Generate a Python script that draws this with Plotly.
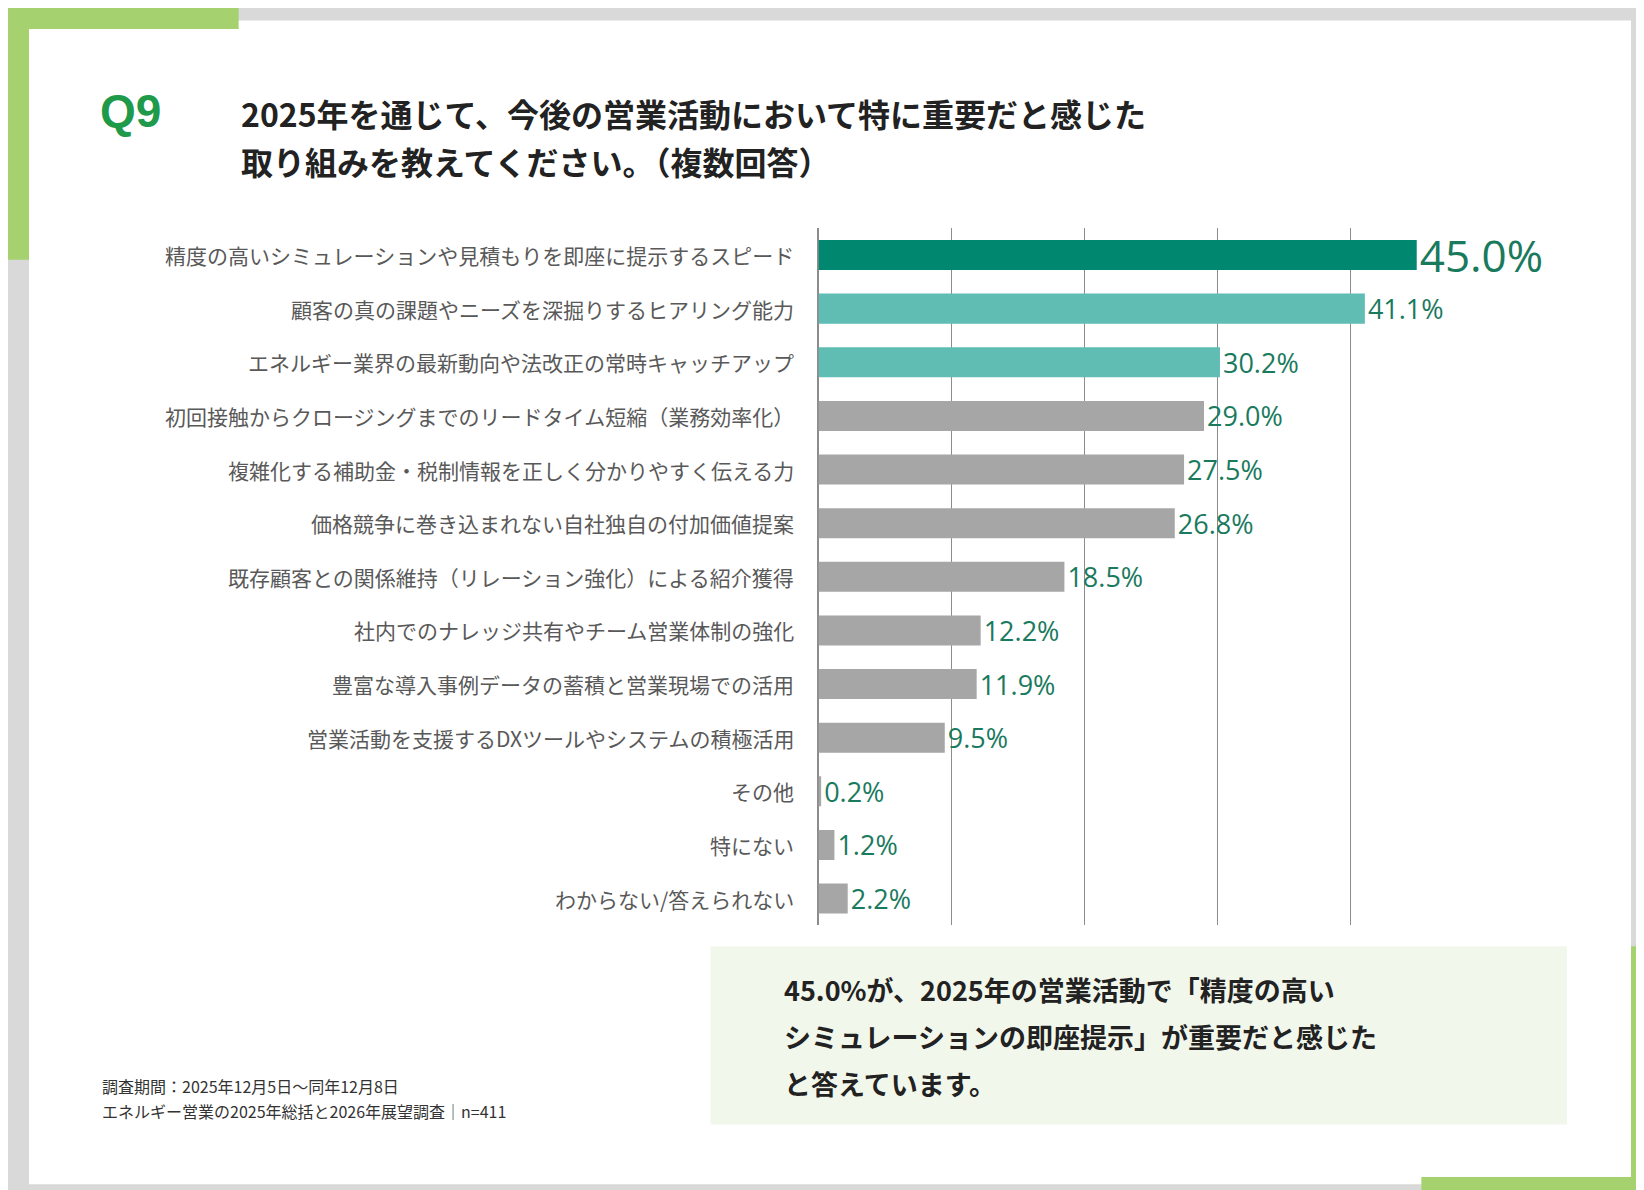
import plotly.graph_objects as go

categories = [
    "精度の高いシミュレーションや見積もりを即座に提示するスピード",
    "顧客の真の課題やニーズを深掘りするヒアリング能力",
    "エネルギー業界の最新動向や法改正の常時キャッチアップ",
    "初回接触からクロージングまでのリードタイム短縮（業務効率化）",
    "複雑化する補助金・税制情報を正しく分かりやすく伝える力",
    "価格競争に巻き込まれない自社独自の付加価値提案",
    "既存顧客との関係維持（リレーション強化）による紹介獲得",
    "社内でのナレッジ共有やチーム営業体制の強化",
    "豊富な導入事例データの蓄積と営業現場での活用",
    "営業活動を支援するDXツールやシステムの積極活用",
    "その他",
    "特にない",
    "わからない/答えられない",
]
values = [45.0, 41.1, 30.2, 29.0, 27.5, 26.8, 18.5, 12.2, 11.9, 9.5, 0.2, 1.2, 2.2]
value_labels = [f"{v:.1f}%" for v in values]

W, H = 1644, 1190
def X(px): return px / 1568
def Y(py): return 1 - py / 1135

FONT = "Noto Sans CJK JP"
colors = ["#00876f", "#5fbdb4", "#5fbdb4"] + ["#a6a6a6"] * 10
sizes = [44] + [27] * 12

fig = go.Figure(go.Bar(
    x=values, y=list(range(len(values))), orientation="h",
    marker=dict(color=colors, line=dict(width=0)), width=0.56,
    text=value_labels, textposition="outside", cliponaxis=False, constraintext="none",
    textfont=dict(size=sizes, color="#1a7a5e", family="Open Sans"),
    hoverinfo="skip",
))

shapes = [
    dict(type="rect", xref="paper", yref="paper", x0=0, x1=1, y0=0, y1=1, fillcolor="#d9d9d9", line_width=0, layer="below"),
    dict(type="rect", xref="paper", yref="paper", x0=X(20), x1=X(1548), y0=Y(1122), y1=Y(12), fillcolor="white", line_width=0, layer="below"),
    dict(type="rect", xref="paper", yref="paper", x0=0, x1=X(220), y0=Y(20), y1=1, fillcolor="#a5d26f", line_width=0, layer="below"),
    dict(type="rect", xref="paper", yref="paper", x0=0, x1=X(20), y0=Y(240), y1=1, fillcolor="#a5d26f", line_width=0, layer="below"),
    dict(type="rect", xref="paper", yref="paper", x0=X(1348), x1=1, y0=0, y1=Y(1115), fillcolor="#a5d26f", line_width=0, layer="below"),
    dict(type="rect", xref="paper", yref="paper", x0=X(1548), x1=1, y0=0, y1=Y(895), fillcolor="#a5d26f", line_width=0, layer="below"),
    dict(type="rect", xref="paper", yref="paper", x0=X(670), x1=X(1487), y0=Y(1065), y1=Y(895), fillcolor="#f2f7ec", line_width=0, layer="below"),
]

ann = []
for i, c in enumerate(categories):
    ann.append(dict(x=X(752), y=i, xref="paper", yref="y", text=c, showarrow=False,
                    xanchor="right", yanchor="middle", font=dict(size=21, color="#595959", family=FONT)))

def line_ann(x, y, text, size, color, bold=True, family=FONT):
    t = f"<b>{text}</b>" if bold else text
    return dict(x=X(x), y=Y(y), xref="paper", yref="paper", text=t, showarrow=False,
                xanchor="left", yanchor="middle", font=dict(size=size, color=color, family=family))

ann += [
    line_ann(86, 98, "Q9", 46, "#1e9a4a", family="Liberation Sans"),
    line_ann(220, 100, "2025年を通じて、今後の営業活動において特に重要だと感じた", 32, "#222"),
    line_ann(220, 146, "取り組みを教えてください。（複数回答）", 32, "#222"),
    line_ann(738, 936, "45.0%が、2025年の営業活動で「精度の高い", 27, "#222"),
    line_ann(738, 981, "シミュレーションの即座提示」が重要だと感じた", 27, "#222"),
    line_ann(738, 1026, "と答えています。", 27, "#222"),
    line_ann(88, 1028, "調査期間：2025年12月5日～同年12月8日", 16, "#333", bold=False),
    line_ann(88, 1052, "エネルギー営業の2025年総括と2026年展望調査│n=411", 16, "#333", bold=False),
]

fig.update_layout(
    width=W, height=H, margin=dict(l=0, r=0, t=0, b=0),
    paper_bgcolor="white", plot_bgcolor="rgba(0,0,0,0)",
    showlegend=False, shapes=shapes, annotations=ann,
    xaxis=dict(domain=[X(773), X(1407)], range=[0, 50], dtick=10, showgrid=True, gridcolor="#8c8c8c",
               gridwidth=1, showticklabels=False, zeroline=True, zerolinecolor="#8c8c8c", ticks=""),
    yaxis=dict(domain=[Y(875), Y(210)], range=[12.5, -0.5], showticklabels=False, showgrid=False, zeroline=False),
)
fig.write_html("out.html")
